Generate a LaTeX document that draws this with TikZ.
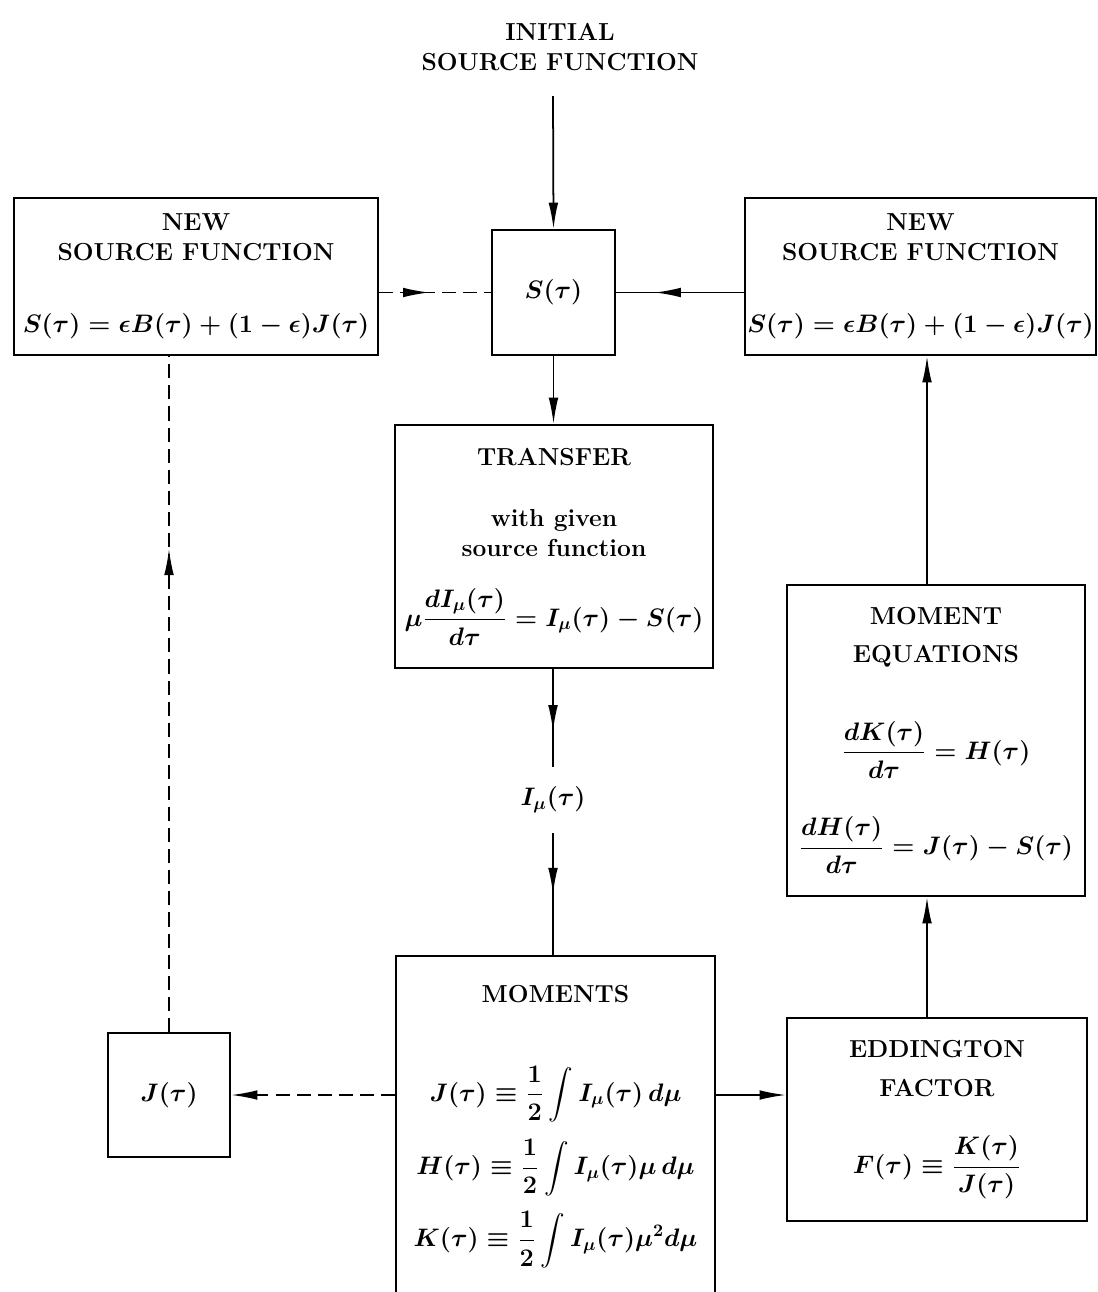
\documentclass[tikz,border=0pt]{standalone}
\usepackage{amsmath, amssymb}
\usepackage{tikz}
\usetikzlibrary{positioning,arrows.meta,decorations.markings}

\begin{document}
\begin{tikzpicture}[
            x=0.02cm, y=-0.02cm,
            box/.style={draw, line width=1.2pt, align=center, inner sep=0pt,
                font=\fontsize{14}{17}\selectfont\bfseries\boldmath},
            txt/.style={align=center, inner sep=0pt,
                font=\fontsize{14}{17}\selectfont\bfseries\boldmath},
            flow/.style={line width=1pt},
            dashes/.style={dash pattern=on 8pt off 4pt},
            endarrow/.style={-{Latex[length=15pt,width=5.5pt]}},
            midarrow/.style={postaction={decorate},
                decoration={markings, mark=at position #1 with {\arrow{Latex[length=15pt,width=5.5pt]}}}}
        ]
            \useasboundingbox (0,0) rectangle (1098,1292);
            \clip (0,0) rectangle (1098,1292);
            % Boxes
            \node[txt] (init) at (560,47) {INITIAL\\SOURCE FUNCTION};
            \coordinate (initend) at (553,96);
            \node[box, minimum width=2.46cm, minimum height=2.5cm] (s) at (553.5,292.5) {$S(\tau)$};
            \node[box, minimum width=7.28cm, minimum height=3.14cm] (lnsf) at (196,276.5)
                {NEW\\SOURCE FUNCTION\\[24pt]$S(\tau)=\epsilon B(\tau)+(1-\epsilon)J(\tau)$};
            \node[box, minimum width=7.02cm, minimum height=3.14cm] (rnsf) at (920.5,276.5)
                {NEW\\SOURCE FUNCTION\\[24pt]$S(\tau)=\epsilon B(\tau)+(1-\epsilon)J(\tau)$};
            \node[box, minimum width=6.36cm, minimum height=4.86cm] (trans) at (554,546.5)
                {TRANSFER\\[18pt]with given\\source function\\[17pt]$\mu\dfrac{dI_\mu(\tau)}{d\tau}=I_\mu(\tau)-S(\tau)$};
            \node[txt, minimum height=1.32cm] (iu) at (553,800) {$I_\mu(\tau)$};
            \node[box, minimum width=6.38cm, minimum height=6.82cm, anchor=north] (mom) at (555.5,955)
                {MOMENTS\\[35pt]$\displaystyle J(\tau)\equiv\frac{1}{2}\int I_\mu(\tau)\,d\mu$\\[9pt]
                 $\displaystyle H(\tau)\equiv\frac{1}{2}\int I_\mu(\tau)\mu\,d\mu$\\[8pt]
                 $\displaystyle K(\tau)\equiv\frac{1}{2}\int I_\mu(\tau)\mu^2d\mu$};
            \node[box, minimum width=2.44cm, minimum height=2.48cm] (j) at (169,1095) {$J(\tau)$};
            \node[box, minimum width=5.96cm, minimum height=6.22cm] (medq) at (936,740.5)
                {MOMENT\\[4.5pt]EQUATIONS\\[30pt]$\dfrac{dK(\tau)}{d\tau}=H(\tau)$\\[21pt]$\dfrac{dH(\tau)}{d\tau}=J(\tau)-S(\tau)$};
            \node[box, minimum width=6cm, minimum height=4.06cm] (edd) at (937,1119.5)
                {EDDINGTON\\[5.5pt]FACTOR\\[21pt]$F(\tau)\equiv\dfrac{K(\tau)}{J(\tau)}$};
            \coordinate (rx) at (927,0);
            % Connectors
            \draw[flow, endarrow] (initend) -- (s.north);
            \draw[flow, endarrow] (s.south) -- (s.south |- trans.north);
            \draw[flow, midarrow=0.64] (trans.south -| iu) -- (iu.north);
            \draw[flow, midarrow=0.5] (iu.south) -- (iu.south |- mom.north);
            \draw[flow, dashes, midarrow=0.45] (s.west -| lnsf.east) -- (s.west);
            \draw[flow, midarrow=0.7] (s.east -| rnsf.west) -- (s.east);
            \draw[flow, endarrow] (rx |- medq.north) -- (rx |- rnsf.south);
            \draw[flow, endarrow] (rx |- edd.north) -- (rx |- medq.south);
            \draw[flow, endarrow] (j -| mom.east) -- (j -| edd.west);
            \draw[flow, dashes, endarrow] (j -| mom.west) -- (j.east);
            \draw[flow, dashes, midarrow=0.715] (j.north) -- (j.north |- lnsf.south);
        \end{tikzpicture}
\end{document}
